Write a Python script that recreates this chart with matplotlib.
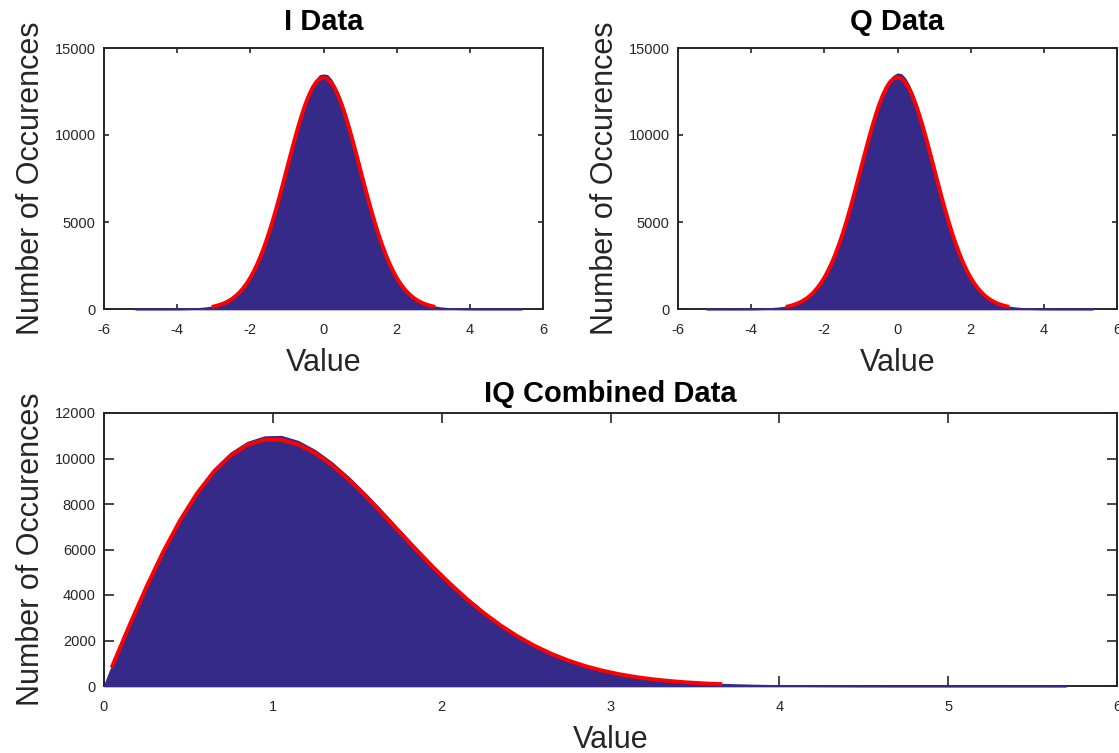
import numpy as np
import matplotlib
matplotlib.use("Agg")
import matplotlib.pyplot as plt

plt.rcParams['font.family'] = ['Liberation Sans', 'DejaVu Sans']
plt.rcParams['axes.unicode_minus'] = False

# 直方圖 (bin 中心) 與擬合曲線的數值
core_x = np.round(np.arange(-3.5, 3.51, 0.1), 1)

i_tail_left_x = [-5.15, -4.6, -4.2, -4.0, -3.8, -3.6]
i_tail_left_y = [1, 1, 3, 5, 10, 20]
i_core_y = [30, 42, 60, 80, 112, 150, 200, 268, 350, 458,
            590, 752, 950, 1190, 1475, 1812, 2200, 2648, 3155, 3720,
            4350, 5030, 5760, 6530, 7330, 8140, 8960, 9760, 10520, 11230,
            11860, 12400, 12840, 13180, 13420, 13460, 13430, 13200, 12820, 12360,
            11800, 11180, 10470, 9710, 8910, 8100, 7290, 6500, 5735, 5010,
            4335, 3710, 3145, 2640, 2193, 1805, 1470, 1186, 946, 749,
            586, 454, 348, 265, 199, 149, 110, 79, 57, 41, 29]
i_tail_right_x = [3.6, 3.8, 4.0, 4.4, 5.0, 5.42]
i_tail_right_y = [20, 10, 5, 2, 1, 1]

q_tail_left_x = [-5.23, -4.6, -4.2, -4.0, -3.8, -3.6]
q_tail_left_y = [1, 1, 3, 5, 10, 21]
q_core_y = [31, 44, 58, 81, 110, 152, 201, 266, 352, 455,
            588, 750, 948, 1188, 1472, 1808, 2196, 2645, 3150, 3715,
            4340, 5020, 5750, 6515, 7310, 8120, 8930, 9720, 10480, 11190,
            11820, 12370, 12810, 13150, 13400, 13520, 13480, 13260, 12900, 12420,
            11850, 11210, 10500, 9740, 8940, 8130, 7310, 6510, 5745, 5015,
            4330, 3705, 3140, 2636, 2190, 1803, 1468, 1185, 945, 748,
            585, 453, 348, 264, 198, 148, 108, 78, 56, 42, 30]
q_tail_right_x = [3.6, 3.8, 4.0, 4.4, 5.0, 5.34]
q_tail_right_y = [20, 10, 5, 2, 1, 1]

fit_x = np.round(np.arange(-3.0, 3.01, 0.1), 1)
i_fit_y = [148, 198, 264, 347, 453, 584, 747, 944, 1183, 1466,
           1800, 2187, 2632, 3135, 3698, 4318, 4992, 5713, 6474, 7263,
           8067, 8871, 9658, 10410, 11109, 11737, 12277, 12715, 13037, 13234,
           13300, 13234, 13037, 12715, 12277, 11737, 11109, 10410, 9658, 8871,
           8067, 7263, 6474, 5713, 4992, 4318, 3698, 3135, 2632, 2187,
           1800, 1466, 1183, 944, 747, 584, 453, 347, 264, 198, 148]
q_fit_y = [148, 198, 265, 348, 454, 585, 748, 946, 1185, 1468,
           1803, 2190, 2636, 3140, 3704, 4325, 5000, 5722, 6484, 7275,
           8080, 8885, 9673, 10426, 11126, 11755, 12296, 12735, 13057, 13254,
           13320, 13254, 13057, 12735, 12296, 11755, 11126, 10426, 9673, 8885,
           8080, 7275, 6484, 5722, 5000, 4325, 3704, 3140, 2636, 2190,
           1803, 1468, 1185, 946, 748, 585, 454, 348, 265, 198, 148]

iq_x = [0.0, 0.05, 0.15, 0.25, 0.35, 0.45, 0.55, 0.65, 0.75, 0.85,
        0.95, 1.05, 1.15, 1.25, 1.35, 1.45, 1.55, 1.65, 1.75, 1.85,
        1.95, 2.05, 2.15, 2.25, 2.35, 2.45, 2.55, 2.65, 2.75, 2.85,
        2.95, 3.05, 3.15, 3.25, 3.35, 3.45, 3.55, 3.65, 3.75, 3.85,
        3.95, 4.2, 4.5, 5.0, 5.7]
iq_y = [0, 920, 2700, 4400, 5960, 7360, 8560, 9520, 10250, 10720,
        10960, 10980, 10760, 10360, 9820, 9170, 8440, 7660, 6850, 6050,
        5280, 4550, 3870, 3250, 2700, 2215, 1800, 1445, 1145, 900,
        698, 535, 406, 305, 226, 166, 120, 87, 62, 44,
        30, 12, 4, 2, 1]

iq_fit_x = [0.05, 0.15, 0.25, 0.35, 0.45, 0.55, 0.65, 0.75, 0.85, 0.95,
            1.05, 1.15, 1.25, 1.35, 1.45, 1.55, 1.65, 1.75, 1.85, 1.95,
            2.05, 2.15, 2.25, 2.35, 2.45, 2.55, 2.65, 2.75, 2.85, 2.95,
            3.05, 3.15, 3.25, 3.35, 3.45, 3.55, 3.65]
iq_fit_y = [893, 2653, 4335, 5889, 7275, 8458, 9414, 10128, 10596, 10823,
            10824, 10619, 10238, 9709, 9066, 8341, 7567, 6770, 5978, 5211,
            4486, 3814, 3203, 2658, 2180, 1767, 1416, 1121, 878, 680,
            521, 395, 296, 219, 161, 116, 84]

BAR_COLOR = '#352A87'
FIT_COLOR = '#FF0000'
AX_COLOR = '#262626'

W, H = 1119, 753
fig = plt.figure(figsize=(W / 100, H / 100), dpi=100)
ax1 = fig.add_axes([104 / W, 1 - 309 / H, 439 / W, 261 / H])
ax2 = fig.add_axes([678 / W, 1 - 309 / H, 439 / W, 261 / H])
ax3 = fig.add_axes([104 / W, 1 - 686 / H, 1013 / W, 273 / H])


def style_axes(ax, ticklen):
    for s in ax.spines.values():
        s.set_color(AX_COLOR)
        s.set_linewidth(1.4)
    ax.tick_params(direction='in', top=True, right=True, length=ticklen,
                   width=1.2, color=AX_COLOR, labelcolor=AX_COLOR,
                   labelsize=10.5)
    ax.tick_params(axis='x', pad=10)
    ax.tick_params(axis='y', pad=6)
    ax.set_xlabel('Value', fontsize=22, color=AX_COLOR, labelpad=8)
    ax.set_ylabel('Number of Occurences', fontsize=22, color=AX_COLOR, labelpad=6)


def gauss_panel(ax, title, lx, ly, cy, rx, ry, fy):
    hx = list(lx) + list(core_x) + list(rx)
    hy = list(ly) + list(cy) + list(ry)
    ax.fill_between(hx, hy, 0, color=BAR_COLOR, edgecolor=BAR_COLOR,
                    linewidth=1.2, zorder=3, clip_on=False)
    ax.plot(fit_x, fy, color=FIT_COLOR, linewidth=2.8, zorder=4)
    ax.set_xlim(-6, 6)
    ax.set_ylim(0, 15000)
    ax.set_xticks([-6, -4, -2, 0, 2, 4, 6])
    ax.set_yticks([0, 5000, 10000, 15000])
    ax.set_title(title, fontsize=21, fontweight='bold', color='black', pad=13)
    style_axes(ax, 3.3)


gauss_panel(ax1, 'I Data', i_tail_left_x, i_tail_left_y, i_core_y,
            i_tail_right_x, i_tail_right_y, i_fit_y)
gauss_panel(ax2, 'Q Data', q_tail_left_x, q_tail_left_y, q_core_y,
            q_tail_right_x, q_tail_right_y, q_fit_y)

ax3.fill_between(iq_x, iq_y, 0, color=BAR_COLOR, edgecolor=BAR_COLOR,
                 linewidth=1.2, zorder=3, clip_on=False)
ax3.plot(iq_fit_x, iq_fit_y, color=FIT_COLOR, linewidth=2.8, zorder=4)
ax3.set_xlim(0, 6)
ax3.set_ylim(0, 12000)
ax3.set_xticks([0, 1, 2, 3, 4, 5, 6])
ax3.set_yticks([0, 2000, 4000, 6000, 8000, 10000, 12000])
ax3.set_title('IQ Combined Data', fontsize=21, fontweight='bold', color='black', pad=8)
style_axes(ax3, 7.3)

fig.savefig('out.png', dpi=100)
